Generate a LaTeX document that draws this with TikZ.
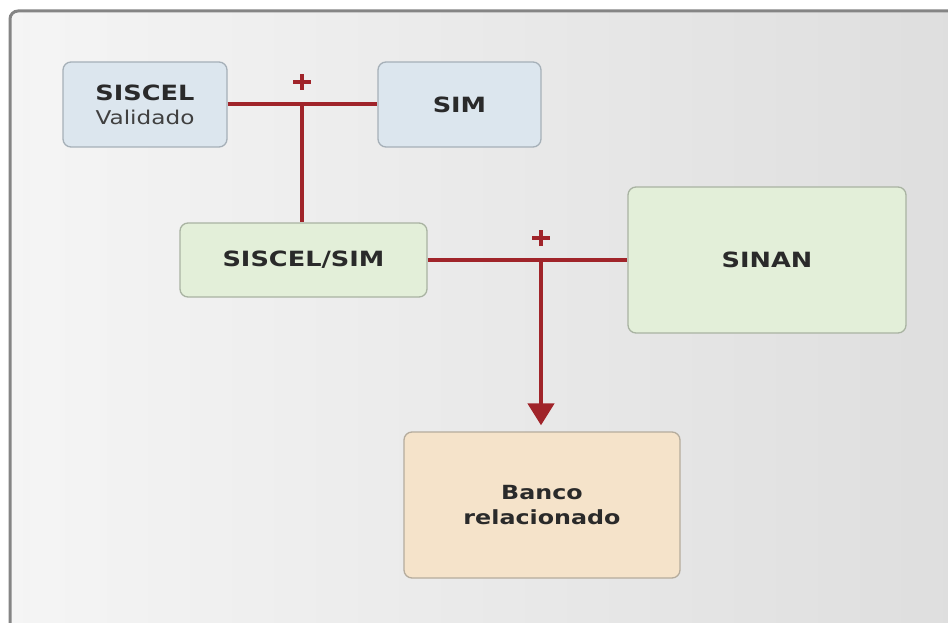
\documentclass[tikz,border=0pt]{standalone}
\usepackage{fontspec}
\setmainfont{DejaVu Sans}[FakeStretch=1.22]
\usetikzlibrary{arrows.meta}
\definecolor{linered}{HTML}{A0242A}
\definecolor{frameg}{HTML}{858585}
\definecolor{bluefill}{HTML}{DCE6EE}
\definecolor{blueedge}{HTML}{A6B0B8}
\definecolor{greenfill}{HTML}{E3EFD9}
\definecolor{greenedge}{HTML}{A9B3A2}
\definecolor{tanfill}{HTML}{F5E3CA}
\definecolor{tanedge}{HTML}{B5AC9D}
\definecolor{txt}{HTML}{2A2A2A}
\tikzset{
  box/.style={draw, line width=1.3pt, rounded corners=8pt, inner sep=0pt, align=center, text=txt},
  bluebox/.style={box, fill=bluefill, draw=blueedge},
  greenbox/.style={box, fill=greenfill, draw=greenedge},
  tanbox/.style={box, fill=tanfill, draw=tanedge},
  conn/.style={draw=linered, line width=4.5pt},
  plusbar/.style={draw=linered, line width=4.5pt},
  bigtxt/.style={font=\fontsize{21}{24}\selectfont\bfseries},
  midtxt/.style={font=\fontsize{19.5}{25}\selectfont\bfseries},
}
\begin{document}
\begin{tikzpicture}[x=1pt,y=-1pt]
\useasboundingbox (0,0) rectangle (948,623);
\fill[white] (0,0) rectangle (948,623);
% frame with gradient
\shade[left color=white!96!black, right color=white!87!black, rounded corners=8pt]
  (10,11) rectangle (970,650);
\draw[frameg, line width=3pt, rounded corners=8pt] (970,11) -- (10,11) -- (10,650);
% nodes
\node[bluebox, bigtxt, minimum width=164pt, minimum height=85pt] (siscel) at (145,104.5)
  {SISCEL\\{\fontsize{19}{24}\selectfont\mdseries\color{black!75}Validado}};
\node[bluebox, bigtxt, minimum width=163pt, minimum height=85pt] (sim) at (459.5,104.5) {SIM};
\node[greenbox, bigtxt, minimum width=247pt, minimum height=74pt] (siscelsim) at (303.5,260) {SISCEL/SIM};
\node[greenbox, bigtxt, minimum width=278pt, minimum height=146pt] (sinan) at (767,260) {SINAN};
\node[tanbox, midtxt, minimum width=276pt, minimum height=146pt] (banco) at (542,505) {Banco\\relacionado};
% connectors
\coordinate (j1) at (302,104);
\coordinate (j2) at (541,260);
\draw[conn] (siscel.east |- j1) -- (sim.west |- j1);
\draw[conn] (j1) -- (j1 |- siscelsim.north);
\draw[conn] (siscelsim.east |- j2) -- (sinan.west |- j2);
\draw[conn, -{Triangle[width=26pt,length=22pt]}, shorten >=6pt] (j2) -- (j2 |- banco.north);
% plus signs
\coordinate (p1) at (302,82);
\coordinate (p2) at (541,238);
\draw[plusbar] ([xshift=-9pt]p1) -- ([xshift=9pt]p1);
\draw[plusbar] ([yshift=-8pt]p1) -- ([yshift=8pt]p1);
\draw[plusbar] ([xshift=-9pt]p2) -- ([xshift=9pt]p2);
\draw[plusbar] ([yshift=-8pt]p2) -- ([yshift=8pt]p2);
\end{tikzpicture}
\end{document}
